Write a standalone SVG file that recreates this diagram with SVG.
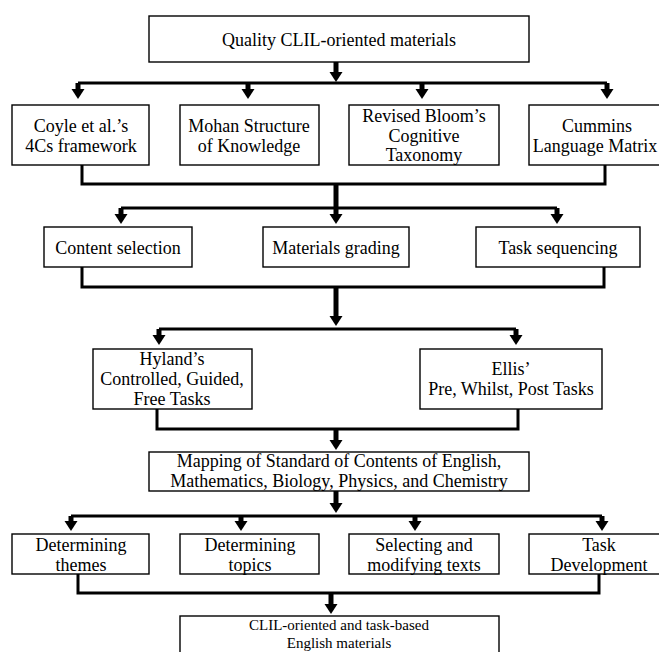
<svg xmlns="http://www.w3.org/2000/svg" width="659" height="652" viewBox="0 0 659 652">
<defs>
<marker id="ah" markerUnits="userSpaceOnUse" markerWidth="10" markerHeight="14" viewBox="0 0 10 14" refX="1" refY="7" orient="auto">
<path d="M0,0.5 L10,7 L0,13.5 Z" fill="#000"/>
</marker>
<style>
.box{fill:#fff;stroke:#000;stroke-width:1.4}
.t{font-family:"Liberation Serif","Times New Roman",serif;font-size:18px;fill:#000;text-anchor:middle}
.s{font-size:15px}
.bus{fill:none;stroke:#000;stroke-width:3;stroke-linejoin:miter}
.arr{stroke:#000;stroke-width:5;fill:none;marker-end:url(#ah)}
</style>
</defs>
<rect width="659" height="652" fill="#fff"/>
<g id="connectors">
<path class="arr" d="M336,62 V73"/>
<path class="bus" d="M78,83 H607"/>
<path class="arr" d="M78,83 V90"/>
<path class="arr" d="M248,83 V90"/>
<path class="arr" d="M422,83 V90"/>
<path class="arr" d="M607,83 V90"/>
<path class="bus" d="M82,165 V184 H605 V165"/>
<path class="arr" d="M336,184 V215"/>
<path class="bus" d="M121,208 H557"/>
<path class="arr" d="M121,208 V215"/>
<path class="arr" d="M557,208 V215"/>
<path class="bus" d="M82,267 V287 H604 V267"/>
<path class="arr" d="M336,287 V317"/>
<path class="bus" d="M159,329 H516"/>
<path class="arr" d="M159,329 V336"/>
<path class="arr" d="M516,329 V336"/>
<path class="bus" d="M157,409 V429 H518 V409"/>
<path class="arr" d="M336,429 V441"/>
<path class="arr" d="M336,491 V504"/>
<path class="bus" d="M71,516 H602"/>
<path class="arr" d="M71,516 V522"/>
<path class="arr" d="M241,516 V522"/>
<path class="arr" d="M415,516 V522"/>
<path class="arr" d="M602,516 V522"/>
<path class="bus" d="M78,574 V593 H599 V574"/>
<path class="arr" d="M331,593 V605"/>
</g>
<g id="n-quality">
<rect class="box" x="149" y="16" width="380" height="46"/>
<text class="t" x="339" y="46">Quality CLIL-oriented materials</text>
</g>
<g id="n-coyle">
<rect class="box" x="12" y="105" width="137" height="60"/>
<text class="t" x="81" y="132">Coyle et al.’s</text>
<text class="t" x="81" y="152">4Cs framework</text>
</g>
<g id="n-mohan">
<rect class="box" x="180" y="105" width="139" height="60"/>
<text class="t" x="249" y="132">Mohan Structure</text>
<text class="t" x="249" y="152">of Knowledge</text>
</g>
<g id="n-bloom">
<rect class="box" x="349" y="105" width="150" height="60"/>
<text class="t" x="424" y="122">Revised Bloom’s</text>
<text class="t" x="424" y="142">Cognitive</text>
<text class="t" x="424" y="161">Taxonomy</text>
</g>
<g id="n-cummins">
<rect class="box" x="529" y="105" width="142" height="60"/>
<text class="t" x="597" y="132">Cummins</text>
<text class="t" x="595" y="152">Language Matrix</text>
</g>
<g id="n-content">
<rect class="box" x="44" y="227" width="148" height="40"/>
<text class="t" x="118" y="254">Content selection</text>
</g>
<g id="n-grading">
<rect class="box" x="263" y="227" width="146" height="40"/>
<text class="t" x="336" y="254">Materials grading</text>
</g>
<g id="n-sequencing">
<rect class="box" x="476" y="227" width="164" height="40"/>
<text class="t" x="558" y="254">Task sequencing</text>
</g>
<g id="n-hyland">
<rect class="box" x="93" y="349" width="159" height="60"/>
<text class="t" x="172" y="365">Hyland’s</text>
<text class="t" x="172" y="385">Controlled, Guided,</text>
<text class="t" x="172" y="405">Free Tasks</text>
</g>
<g id="n-ellis">
<rect class="box" x="420" y="349" width="182" height="60"/>
<text class="t" x="511" y="375">Ellis’</text>
<text class="t" x="511" y="395">Pre, Whilst, Post Tasks</text>
</g>
<g id="n-mapping">
<rect class="box" x="149" y="452" width="380" height="39"/>
<text class="t" x="339" y="467">Mapping of Standard of Contents of English,</text>
<text class="t" x="339" y="487">Mathematics, Biology, Physics, and Chemistry</text>
</g>
<g id="n-themes">
<rect class="box" x="12" y="534" width="137" height="40"/>
<text class="t" x="81" y="551">Determining</text>
<text class="t" x="81" y="571">themes</text>
</g>
<g id="n-topics">
<rect class="box" x="180" y="534" width="139" height="40"/>
<text class="t" x="250" y="551">Determining</text>
<text class="t" x="250" y="571">topics</text>
</g>
<g id="n-texts">
<rect class="box" x="349" y="534" width="150" height="40"/>
<text class="t" x="424" y="551">Selecting and</text>
<text class="t" x="424" y="571">modifying texts</text>
</g>
<g id="n-task">
<rect class="box" x="529" y="534" width="142" height="40"/>
<text class="t" x="599" y="551">Task</text>
<text class="t" x="599" y="571">Development</text>
</g>
<g id="n-final">
<rect class="box" x="180" y="616" width="319" height="50"/>
<text class="t s" x="339" y="630">CLIL-oriented and task-based</text>
<text class="t s" x="339" y="648">English materials</text>
</g>
</svg>
